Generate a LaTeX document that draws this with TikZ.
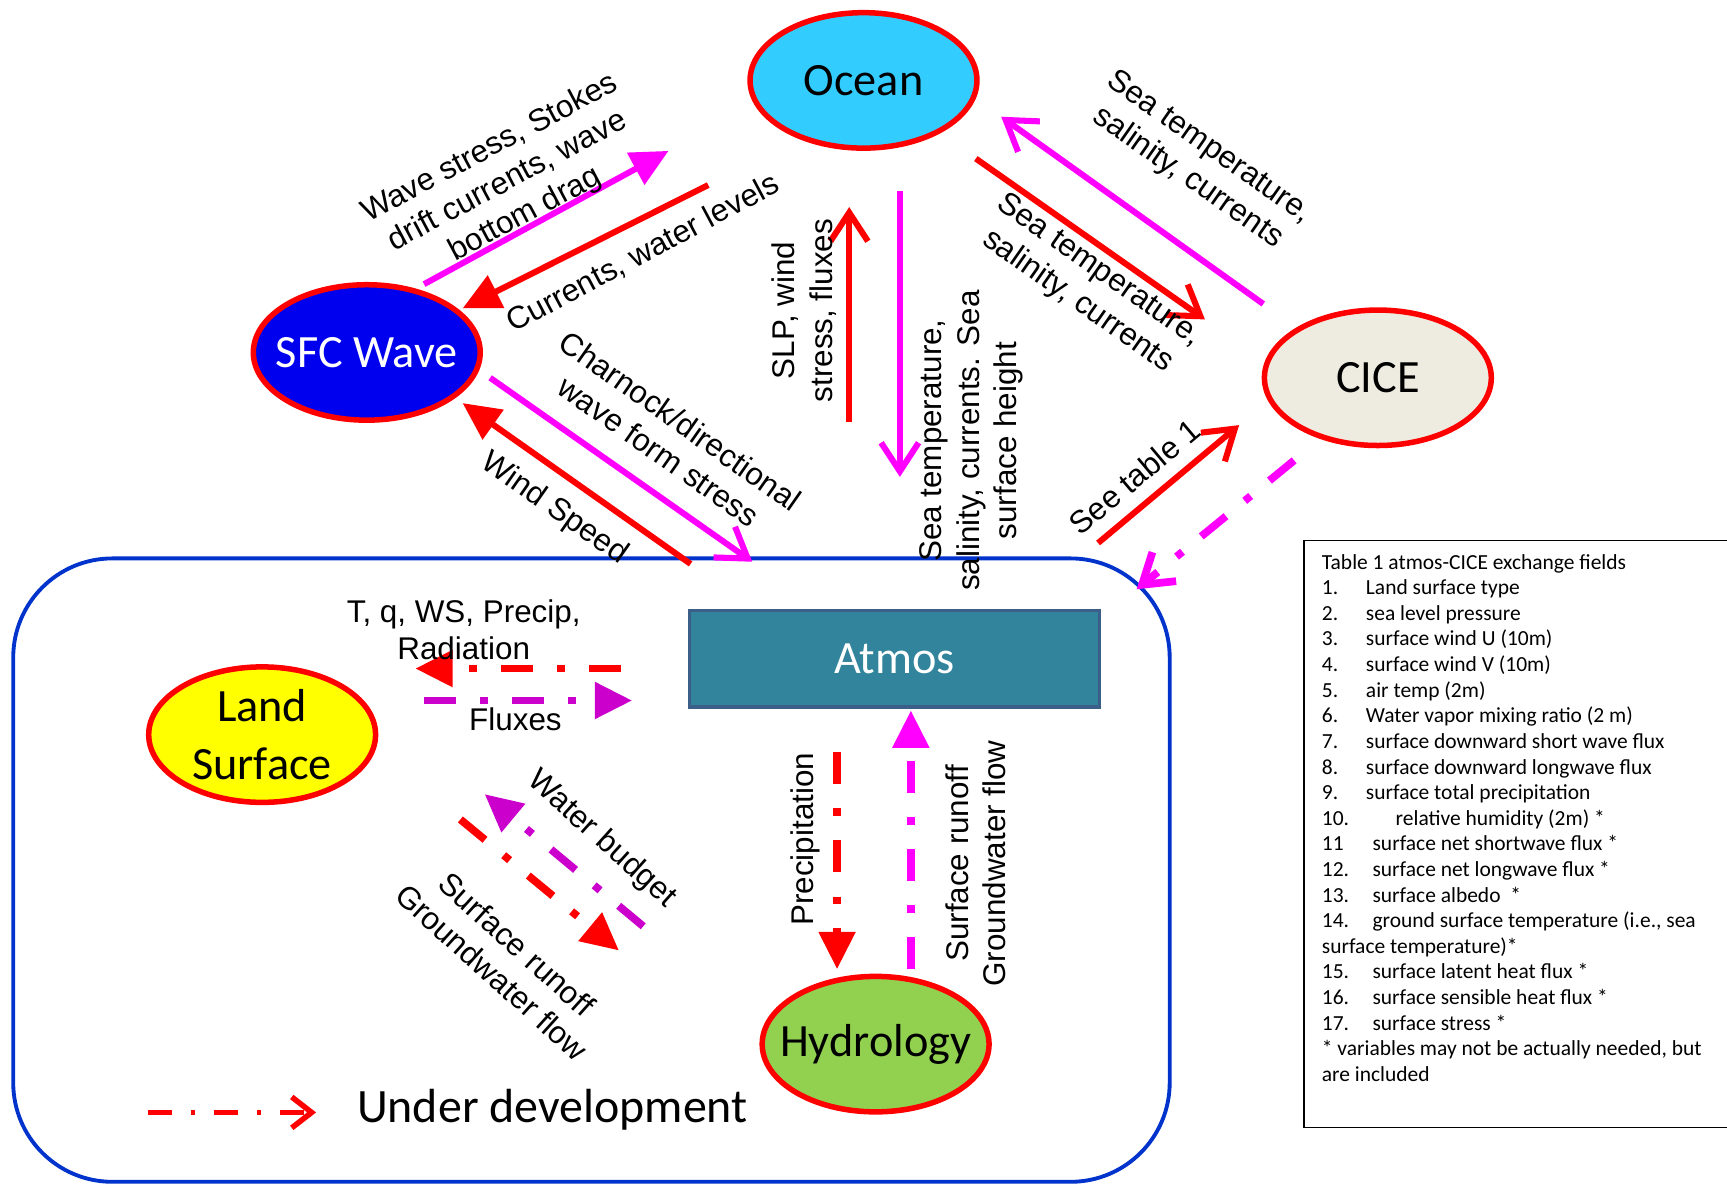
\documentclass[tikz,border=0pt]{standalone}
\usepackage{fontspec}
\setmainfont{Liberation Sans}
\newfontfamily\calfont{Carlito}
\usetikzlibrary{arrows.meta,shapes.geometric}
\definecolor{cred}{HTML}{FF0000}
\definecolor{cmag}{HTML}{FF00FF}
\definecolor{cpurp}{HTML}{CC00CC}
\definecolor{coc}{HTML}{33CCFF}
\definecolor{cwave}{HTML}{0000EE}
\definecolor{ccice}{HTML}{EEECE1}
\definecolor{cland}{HTML}{FFFF00}
\definecolor{chydro}{HTML}{92D050}
\definecolor{catm}{HTML}{31849B}
\definecolor{catmb}{HTML}{3C5F8A}
\definecolor{cframe}{HTML}{0033CC}
\begin{document}
\begin{tikzpicture}[x=1pt,y=-1pt,
  comp/.style={ellipse, draw=cred, line width=5pt, minimum width=206pt, minimum height=123pt, inner sep=0pt},
  comptext/.style={inner sep=0pt, align=center, font=\calfont\fontsize{42}{52}\selectfont},
  lbl/.style={inner sep=0pt, align=center, font=\fontsize{28.5}{34}\selectfont},
  solidarr/.style={line width=5.5pt},
  fhead/.style={-{Triangle[length=34pt,width=32pt]}},
  ohead/.style={-{Straight Barb[length=26pt,width=34pt,line join=miter]}},
  ddash/.style={line width=7pt, dash pattern=on 29pt off 22pt on 7pt off 22pt},
]
\useasboundingbox (0,0) rectangle (1568,1075);
\fill[white] (0,0) rectangle (1568,1075);

% frame
\node[draw=cframe, line width=3.5pt, rounded corners=90pt, minimum width=1050pt, minimum height=566pt, inner sep=0pt] (frame) at (537,790) {};

% components
\node[comp, fill=coc] (ocean) at (784,73) {};
\node[comptext] (oceanT) at (ocean.center) {Ocean};
\node[comp, fill=cwave] (wave) at (333,320) {};
\node[comptext, text=white] (waveT) at (wave.center) {SFC Wave};
\node[comp, fill=ccice] (cice) at (1251,343) {};
\node[comptext] (ciceT) at (cice.center) {CICE};
\node[comp, fill=cland] (land) at (238,667) {};
\node[comptext] (landT) at (land.center) {Land\\Surface};
\node[comp, fill=chydro] (hydro) at (795,948) {};
\node[comptext] (hydroT) at (hydro.center) {Hydrology};
\node[draw=catmb, fill=catm, line width=3pt, minimum width=372pt, minimum height=88pt, inner sep=0pt, text=white, font=\calfont\fontsize{42}{50}\selectfont] (atmos) at (812,598) {Atmos};

% table
\node[draw=black, line width=1.5pt, anchor=north west, minimum width=400pt, minimum height=533pt, inner sep=0pt] (tbox) at (1183,490) {};
\node[anchor=north west, align=left, inner sep=0pt, font=\calfont\fontsize{19.5}{23.25}\selectfont] (ttext) at (1200,503) {%
Table 1 atmos-CICE exchange fields\\
\makebox[40pt][l]{1.}Land surface type\\
\makebox[40pt][l]{2.}sea level pressure\\
\makebox[40pt][l]{3.}surface wind U (10m)\\
\makebox[40pt][l]{4.}surface wind V (10m)\\
\makebox[40pt][l]{5.}air temp (2m)\\
\makebox[40pt][l]{6.}Water vapor mixing ratio (2 m)\\
\makebox[40pt][l]{7.}surface downward short wave flux\\
\makebox[40pt][l]{8.}surface downward longwave flux\\
\makebox[40pt][l]{9.}surface total precipitation\\
\makebox[67pt][l]{10.}relative humidity (2m) *\\
\makebox[46pt][l]{11}surface net shortwave flux *\\
\makebox[46pt][l]{12.}surface net longwave flux *\\
\makebox[46pt][l]{13.}surface albedo\ \ *\\
\makebox[46pt][l]{14.}ground surface temperature (i.e., sea\\
surface temperature)*\\
\makebox[46pt][l]{15.}surface latent heat flux *\\
\makebox[46pt][l]{16.}surface sensible heat flux *\\
\makebox[46pt][l]{17.}surface stress *\\
* variables may not be actually needed, but\\
are included};

% connector end points
\coordinate (waveOutA) at (385,258);  \coordinate (oceanInA) at (607,137);
\coordinate (oceanOutB) at (643,168); \coordinate (waveInB) at (420,280);
\coordinate (atmosOutC) at (771,383); \coordinate (oceanInC) at (771,188);
\coordinate (oceanOutD) at (817,173); \coordinate (atmosInD) at (817,433);
\coordinate (oceanOutE) at (886,144); \coordinate (ciceInE) at (1094,290);
\coordinate (ciceOutF) at (1147,276); \coordinate (oceanInF) at (909,106);
\coordinate (atmosOutG) at (997,493); \coordinate (ciceInG) at (1125,386);
\coordinate (ciceOutH) at (1175,418); \coordinate (atmosInH) at (1032,535);
\coordinate (atmosOutI) at (627,512); \coordinate (waveInI) at (420,366);
\coordinate (waveOutJ) at (445,343);  \coordinate (atmosInJ) at (683,510);
\coordinate (atmosOutK) at (564,607); \coordinate (landInK) at (377,607);
\coordinate (landOutL) at (385,636);  \coordinate (atmosInL) at (574,636);
\coordinate (hydroOutM) at (584,841); \coordinate (landInM) at (440,721);
\coordinate (landOutN) at (418,744);  \coordinate (hydroInN) at (562,863);
\coordinate (atmosOutO) at (760,683); \coordinate (hydroInO) at (760,880);
\coordinate (hydroOutP) at (827,880); \coordinate (atmosInP) at (827,645);
\coordinate (legA) at (134,1010);     \coordinate (legB) at (287,1010);

% connectors
\draw[cmag, solidarr, fhead] (waveOutA) -- (oceanInA);
\draw[cred, solidarr, fhead] (oceanOutB) -- (waveInB);
\draw[cred, solidarr, ohead] (atmosOutC) -- (oceanInC);
\draw[cmag, solidarr, ohead] (oceanOutD) -- (atmosInD);
\draw[cred, solidarr, ohead] (oceanOutE) -- (ciceInE);
\draw[cmag, solidarr, ohead] (ciceOutF) -- (oceanInF);
\draw[cred, solidarr, ohead] (atmosOutG) -- (ciceInG);
\draw[cmag, ddash, ohead] (ciceOutH) -- (atmosInH);
\draw[cred, solidarr, fhead] (atmosOutI) -- (waveInI);
\draw[cmag, solidarr, ohead] (waveOutJ) -- (atmosInJ);
\draw[cred, ddash, fhead] (atmosOutK) -- (landInK);
\draw[cpurp, ddash, fhead] (landOutL) -- (atmosInL);
\draw[cpurp, ddash, fhead] (hydroOutM) -- (landInM);
\draw[cred, ddash, fhead] (landOutN) -- (hydroInN);
\draw[cred, ddash, fhead] (atmosOutO) -- (hydroInO);
\draw[cmag, ddash, fhead] (hydroOutP) -- (atmosInP);
\draw[cred, line width=5pt, dash pattern=on 22pt off 17pt on 4pt off 17pt, -{Straight Barb[length=18pt,width=28pt,line join=miter]}] (legA) -- (legB);

% labels
\node[lbl, rotate=28] (t1) at (461,165) {Wave stress, Stokes\\drift currents, wave\\bottom drag};
\node[lbl, rotate=28] (t2) at (584,230) {Currents, water levels};
\node[lbl, rotate=90] (t3) at (730,282) {SLP, wind\\stress, fluxes};
\node[lbl, rotate=90] (t4) at (882,400) {Sea temperature,\\salinity, currents. Sea\\surface height};
\node[lbl, rotate=-35] (t5) at (988,260) {Sea temperature,\\salinity, currents};
\node[lbl, rotate=-35] (t6) at (1088,148) {Sea temperature,\\salinity, currents};
\node[lbl, rotate=40] (t7) at (1030,433) {See table 1};
\node[lbl, rotate=-35] (t8) at (608,396) {Charnock/directional\\wave form stress};
\node[lbl, rotate=-35] (t9) at (503,462) {Wind Speed};
\node[lbl] (t10) at (421,572) {T, q, WS, Precip,\\Radiation};
\node[lbl] (t11) at (468,653) {Fluxes};
\node[lbl, rotate=-42] (t12) at (546,762) {Water budget};
\node[lbl, rotate=-42] (t13) at (458,870) {Surface runoff\\Groundwater flow};
\node[lbl, rotate=90] (t14) at (731,762) {Precipitation};
\node[lbl, rotate=90] (t15) at (886,784) {Surface runoff\\Groundwater flow};
\node[inner sep=0pt, font=\calfont\fontsize{43.5}{50}\selectfont, anchor=west] (leg) at (324,1008) {Under development};
\end{tikzpicture}
\end{document}
